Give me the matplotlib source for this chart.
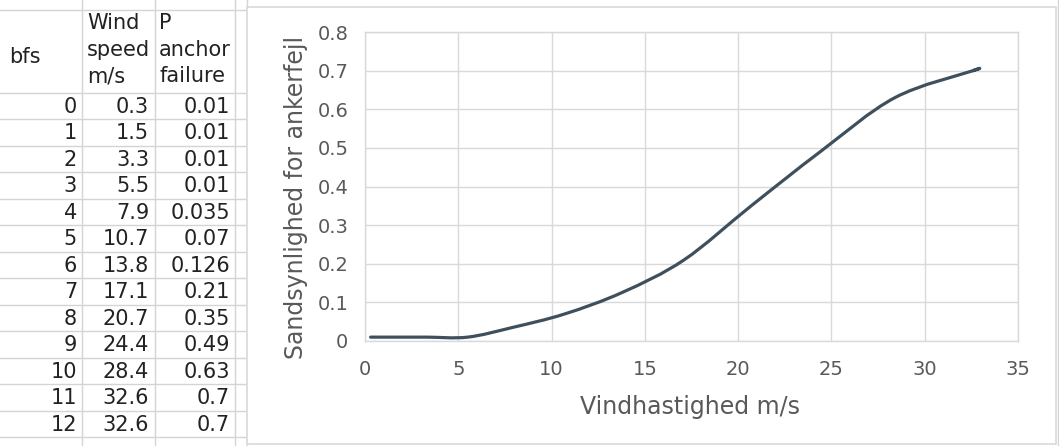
import numpy as np
import matplotlib
matplotlib.use("Agg")
from matplotlib import pyplot as plt
from matplotlib.path import Path
from matplotlib.patches import PathPatch, Rectangle

# beaufort table: wind speed and anchor failure probability
bfs = [0, 1, 2, 3, 4, 5, 6, 7, 8, 9, 10, 11, 12]
wind_speed = [0.3, 1.5, 3.3, 5.5, 7.9, 10.7, 13.8, 17.1, 20.7, 24.4, 28.4, 32.6, 32.6]
p_anchor = [0.01, 0.01, 0.01, 0.01, 0.035, 0.07, 0.126, 0.21, 0.35, 0.49, 0.63, 0.7, 0.7]
wind_labels = ["0.3", "1.5", "3.3", "5.5", "7.9", "10.7", "13.8", "17.1", "20.7", "24.4", "28.4", "32.6", "32.6"]
p_labels = ["0.01", "0.01", "0.01", "0.01", "0.035", "0.07", "0.126", "0.21", "0.35", "0.49", "0.63", "0.7", "0.7"]
headers = [["bfs"], ["Wind", "speed", "m/s"], ["P", "anchor", "failure"]]

W, H = 1059, 446
fig = plt.figure(figsize=(W / 100, H / 100), dpi=100)
plt.rcParams['font.family'] = ['DejaVu Sans']

grid_c = "#D4D4D4"
text_c = "#595959"
line_c = "#3E505D"

# spreadsheet background in pixel units
bg = fig.add_axes([0, 0, 1, 1])
bg.set_xlim(0, W)
bg.set_ylim(H, 0)
bg.axis("off")

col_lines = [82, 155, 235, 247]
header_top, header_bottom, row_h = 10, 92.7, 26.5
for x in col_lines:
    bg.plot([x, x], [0, H], color=grid_c, lw=1)
bg.plot([0, 247], [header_top, header_top], color=grid_c, lw=1)
for i in range(len(bfs) + 1):
    y = header_bottom + i * row_h
    bg.plot([0, 247], [y, y], color=grid_c, lw=1)

# header cells
bg.text(9, 57, headers[0][0], fontsize=15, ha="left", va="center", color="#222222")
for k, x0 in ((1, 87), (2, 159)):
    for j, word in enumerate(headers[k]):
        bg.text(x0, 23 + j * 26.5, word, fontsize=15, ha="left", va="center", color="#222222")

# data rows
for i in range(len(bfs)):
    yc = header_bottom + (i + 0.5) * row_h + 1
    bg.text(77, yc, str(bfs[i]), fontsize=15, ha="right", va="center", color="#222222")
    bg.text(149, yc, wind_labels[i], fontsize=15, ha="right", va="center", color="#222222")
    bg.text(230, yc, p_labels[i], fontsize=15, ha="right", va="center", color="#222222")

# chart frame
bg.add_patch(Rectangle((247, 7), 809, 437, facecolor="white", edgecolor="#D9D9D9", lw=1.2, zorder=5))
bg.plot([1058, 1058], [0, H], color=grid_c, lw=1)

# chart
ax = fig.add_axes([365 / W, (H - 341) / H, (1018 - 365) / W, (341 - 32) / H])
ax.set_xlim(0, 35)
ax.set_ylim(0, 0.8)
ax.set_xticks(np.arange(0, 36, 5))
ax.set_yticks(np.arange(0, 0.81, 0.1))
ax.set_yticklabels(["0"] + [f"{v:.1f}" for v in np.arange(0.1, 0.81, 0.1)])
ax.grid(True, color="#D9D9D9", lw=1)
ax.set_axisbelow(True)
for s in ax.spines.values():
    s.set_color("#D9D9D9")
    s.set_linewidth(1)
ax.tick_params(length=0, labelsize=14, labelcolor=text_c)
ax.tick_params(axis="y", pad=12)
ax.tick_params(axis="x", pad=14)

# smoothed line (cubic bezier through the points)
pts = np.column_stack([wind_speed, p_anchor])
ext = np.vstack([pts[0], pts, pts[-1]])
verts = [tuple(pts[0])]
codes = [Path.MOVETO]
for i in range(len(pts) - 1):
    p0, p1, p2, p3 = ext[i], ext[i + 1], ext[i + 2], ext[i + 3]
    c1 = p1 + (p2 - p0) / 6
    c2 = p2 - (p3 - p1) / 6
    verts += [tuple(c1), tuple(c2), tuple(p2)]
    codes += [Path.CURVE4] * 3
ax.add_patch(PathPatch(Path(verts, codes), facecolor="none", edgecolor=line_c,
                       lw=2.3, capstyle="round", joinstyle="round", zorder=3))

fig.text(690 / W, (H - 407) / H, "Vindhastighed m/s", fontsize=17, color=text_c,
         ha="center", va="center")
fig.text(296 / W, (H - 197) / H, "Sandsynlighed for ankerfejl", fontsize=17, color=text_c,
         ha="center", va="center", rotation=90)

fig.savefig("out.png", dpi=100)
